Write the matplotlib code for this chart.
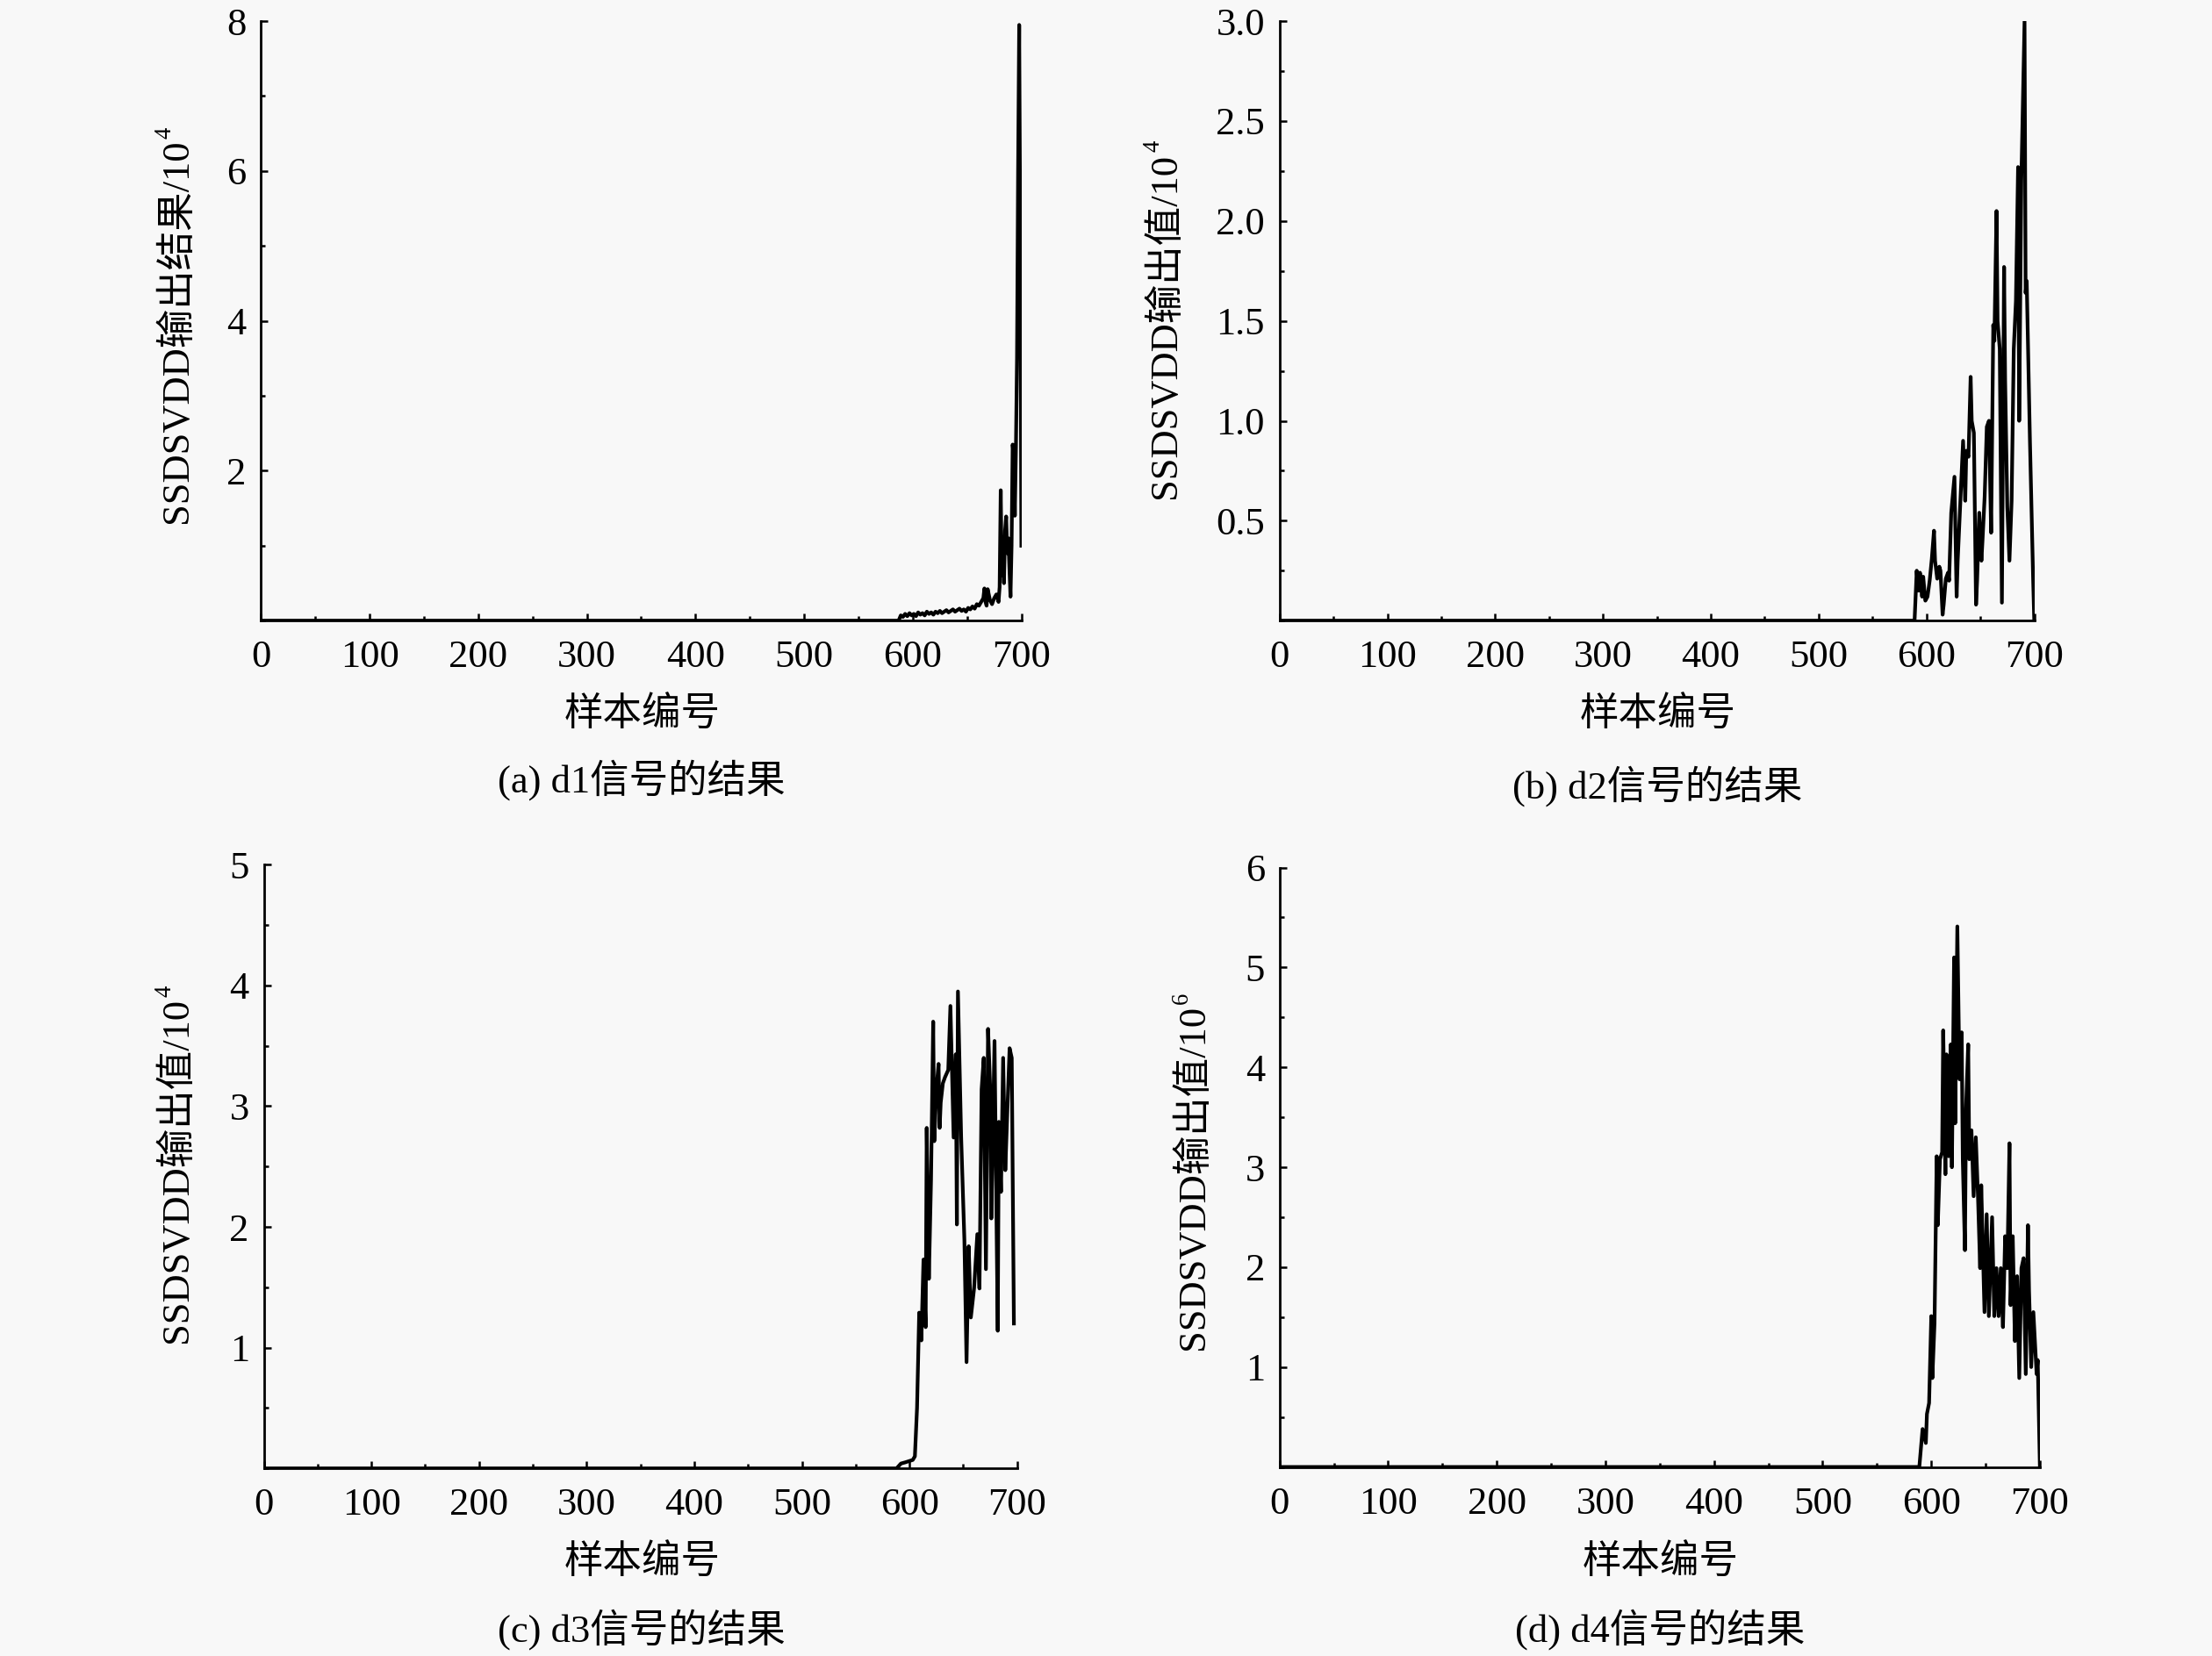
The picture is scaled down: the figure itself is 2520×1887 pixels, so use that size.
import matplotlib
matplotlib.use('Agg')
import matplotlib.pyplot as plt
from matplotlib.ticker import MultipleLocator, FixedLocator, FormatStrFormatter

plt.rcParams['font.family'] = ['Liberation Serif', 'Noto Sans CJK SC', 'DejaVu Serif']

# ---------------- data ----------------
d1_x = [0, 587, 589, 591, 593, 595, 597, 599, 601, 603, 605, 607, 609, 611, 613, 615,
        617, 619, 621, 623, 625, 627, 629, 631, 633, 635, 637, 639, 641, 643, 645, 647,
        649, 651, 653, 655, 657, 659, 661, 663, 665, 666, 667, 668, 669, 671, 673, 675,
        677, 679, 680, 681, 682, 683, 684, 685, 686, 687, 688, 689, 690, 691, 692, 693,
        694, 695, 696, 697, 698, 699, 700]
d1_y = [0, 0, 0.07, 0.05, 0.09, 0.06, 0.1, 0.07, 0.09, 0.06, 0.11, 0.08, 0.1, 0.07, 0.12, 0.09,
        0.11, 0.08, 0.12, 0.1, 0.13, 0.1, 0.12, 0.14, 0.11, 0.13, 0.15, 0.12, 0.14, 0.16, 0.13, 0.15,
        0.12, 0.17, 0.15, 0.19, 0.16, 0.22, 0.2, 0.25, 0.3, 0.43, 0.25, 0.2, 0.42, 0.28, 0.22, 0.3,
        0.35, 0.25, 0.45, 1.74, 0.6, 0.9, 0.5, 1.2, 1.39, 0.9, 1.1, 0.7, 0.32, 1.0, 2.35, 2.2,
        1.4, 2.3, 3.5, 6.0, 7.95, 5.0, 1.0]

d2_x = [0, 589, 591, 592, 593, 594, 596, 597, 599, 601, 603, 605, 607, 608, 610, 612, 613,
        615, 616, 618, 620, 621, 623, 626, 628, 629, 631, 634, 636, 637, 639, 641, 642, 644,
        646, 647, 649, 651, 652, 654, 656, 658, 660, 662, 663, 665, 666, 668, 670, 672, 673,
        675, 677, 679, 681, 683, 685, 686, 688, 691, 692, 693, 696, 699, 700]
d2_y = [0, 0, 0.25, 0.18, 0.15, 0.24, 0.12, 0.22, 0.1, 0.12, 0.2, 0.31, 0.45, 0.3, 0.21, 0.27, 0.25,
        0.03, 0.08, 0.21, 0.24, 0.2, 0.54, 0.72, 0.12, 0.3, 0.54, 0.9, 0.6, 0.85, 0.82, 1.22, 1.0, 0.94,
        0.08, 0.2, 0.54, 0.3, 0.4, 0.62, 0.97, 1.0, 0.44, 1.48, 1.4, 2.05, 1.5, 1.36, 0.09, 1.77, 1.2,
        0.57, 0.3, 0.6, 1.36, 1.6, 2.27, 1.0, 2.2, 3.0, 1.64, 1.7, 0.9, 0.2, 0.0]

d3_x = [0, 588, 592, 596, 603, 605, 607, 609, 611, 613, 615, 616, 618, 620, 622, 623, 625,
        627, 628, 629, 631, 633, 636, 638, 641, 643, 644, 645, 648, 651, 653, 655, 657, 660,
        663, 665, 667, 669, 671, 673, 675, 676, 679, 682, 683, 685, 687, 689, 691, 693, 695, 697]
d3_y = [0, 0, 0.04, 0.05, 0.07, 0.1, 0.5, 1.29, 1.06, 1.73, 1.17, 2.82, 1.57, 2.39, 3.7, 2.71, 3.14,
        3.35, 2.82, 3.03, 3.19, 3.24, 3.3, 3.83, 2.74, 3.43, 2.02, 3.95, 2.74, 1.89, 0.88, 1.84, 1.25, 1.49,
        1.94, 1.49, 3.14, 3.4, 1.65, 3.64, 3.14, 2.07, 3.54, 1.14, 2.87, 2.29, 3.4, 2.47, 2.98, 3.48, 3.4, 1.2]

d4_x = [0, 589, 592, 595, 596, 598, 600, 601, 603, 605, 606, 608, 610, 611, 613, 614, 616,
        618, 619, 621, 622, 624, 626, 628, 629, 631, 632, 634, 635, 637, 639, 641, 643, 645,
        646, 649, 651, 653, 656, 658, 660, 662, 664, 666, 668, 670, 672, 673, 675, 677, 679,
        681, 683, 685, 687, 689, 690, 692, 694, 697, 698, 700]
d4_y = [0, 0, 0.38, 0.24, 0.53, 0.64, 1.51, 0.89, 1.44, 3.11, 2.42, 3.08, 3.15, 4.37, 2.93, 4.13, 3.11,
        4.23, 3.0, 5.1, 3.44, 5.41, 3.88, 4.35, 3.08, 2.17, 3.59, 4.23, 3.08, 3.37, 2.71, 3.3, 2.71, 1.99,
        2.82, 1.55, 2.53, 1.51, 2.5, 1.51, 1.99, 1.51, 1.99, 1.4, 2.31, 1.99, 3.24, 1.62, 2.31, 1.26, 1.91,
        0.89, 1.99, 2.09, 0.93, 2.42, 1.77, 1.0, 1.55, 0.93, 1.07, 0.0]

x_ticks = [0, 100, 200, 300, 400, 500, 600, 700]
y_labels = ['SSDSVDD输出结果/10', 'SSDSVDD输出值/10', 'SSDSVDD输出值/10', 'SSDSVDD输出值/10']
y_exponents = ['4', '4', '4', '6']
x_label = '样本编号'
captions = ['(a) d1信号的结果', '(b) d2信号的结果', '(c) d3信号的结果', '(d) d4信号的结果']

# ---------------- layout ----------------
W, H = 1568.0, 1174.0
bg = '#f8f8f8'
fig = plt.figure(figsize=(12.6, 9.435), dpi=200, facecolor=bg)

panels = [
    dict(x=d1_x, y=d1_y, rect=(185, 15, 724, 440), ylim=8, maj=[2, 4, 6, 8], minor=1, fmt='%d',
         ylab_x=125, ylab_y=230, cx=455, xl_y=507, cap_y=553),
    dict(x=d2_x, y=d2_y, rect=(907, 15, 1442, 440), ylim=3, maj=[0.5, 1.0, 1.5, 2.0, 2.5, 3.0], minor=0.25,
         fmt='%.1f', ylab_x=826, ylab_y=226, cx=1175, xl_y=507, cap_y=557),
    dict(x=d3_x, y=d3_y, rect=(187, 613, 721, 1041), ylim=5, maj=[1, 2, 3, 4, 5], minor=0.5, fmt='%d',
         ylab_x=125, ylab_y=825, cx=455, xl_y=1108, cap_y=1155),
    dict(x=d4_x, y=d4_y, rect=(907, 615, 1446, 1040), ylim=6, maj=[1, 2, 3, 4, 5, 6], minor=0.5, fmt='%d',
         ylab_x=846, ylab_y=830, cx=1177, xl_y=1108, cap_y=1155),
]

fs = 16
fig.canvas.draw()
renderer = fig.canvas.get_renderer()
for i, p in enumerate(panels):
    l, t, r, b = p['rect']
    ax = fig.add_axes([l / W, 1 - b / H, (r - l) / W, (b - t) / H])
    ax.set_facecolor(bg)
    ax.plot(p['x'], p['y'], color='black', lw=1.5, zorder=2)
    ax.set_xlim(0, 700)
    ax.set_ylim(0, p['ylim'])
    ax.xaxis.set_major_locator(FixedLocator(x_ticks))
    ax.xaxis.set_minor_locator(MultipleLocator(50))
    ax.yaxis.set_major_locator(FixedLocator(p['maj']))
    ax.yaxis.set_minor_locator(MultipleLocator(p['minor']))
    ax.yaxis.set_major_formatter(FormatStrFormatter(p['fmt']))
    for s in ['top', 'right']:
        ax.spines[s].set_visible(False)
    for s in ['left', 'bottom']:
        ax.spines[s].set_linewidth(1.0)
        ax.spines[s].set_zorder(3)
    ax.tick_params(which='major', direction='in', length=3.0, width=0.9, labelsize=fs)
    ax.tick_params(which='minor', direction='in', length=1.8, width=0.9)
    ax.tick_params(axis='x', which='major', pad=8)
    ax.tick_params(axis='y', which='major', pad=6)

    # y label: main part + small superscript exponent placed after it
    main = fig.text(0, 0, y_labels[i], rotation=90, fontsize=fs)
    bb = main.get_window_extent(renderer=renderer)
    main.remove()
    sup_h = 0.35 * fs / 72 * fig.dpi
    total_h = bb.height + sup_h
    cx_px = p['ylab_x'] / W * fig.bbox.width
    cy_px = (1 - p['ylab_y'] / H) * fig.bbox.height
    y0 = cy_px - total_h / 2
    fig.text(cx_px / fig.bbox.width, y0 / fig.bbox.height, y_labels[i], rotation=90,
             ha='center', va='bottom', fontsize=fs)
    fig.text((cx_px - 0.3 * fs / 72 * fig.dpi) / fig.bbox.width,
             (y0 + bb.height + 1) / fig.bbox.height, y_exponents[i], rotation=90,
             ha='center', va='bottom', fontsize=fs * 0.6)

    fig.text(p['cx'] / W, 1 - p['xl_y'] / H, x_label, ha='center', va='center', fontsize=fs)
    fig.text(p['cx'] / W, 1 - p['cap_y'] / H, captions[i], ha='center', va='center', fontsize=fs)

fig.savefig('out.png', dpi=200, facecolor=bg)
